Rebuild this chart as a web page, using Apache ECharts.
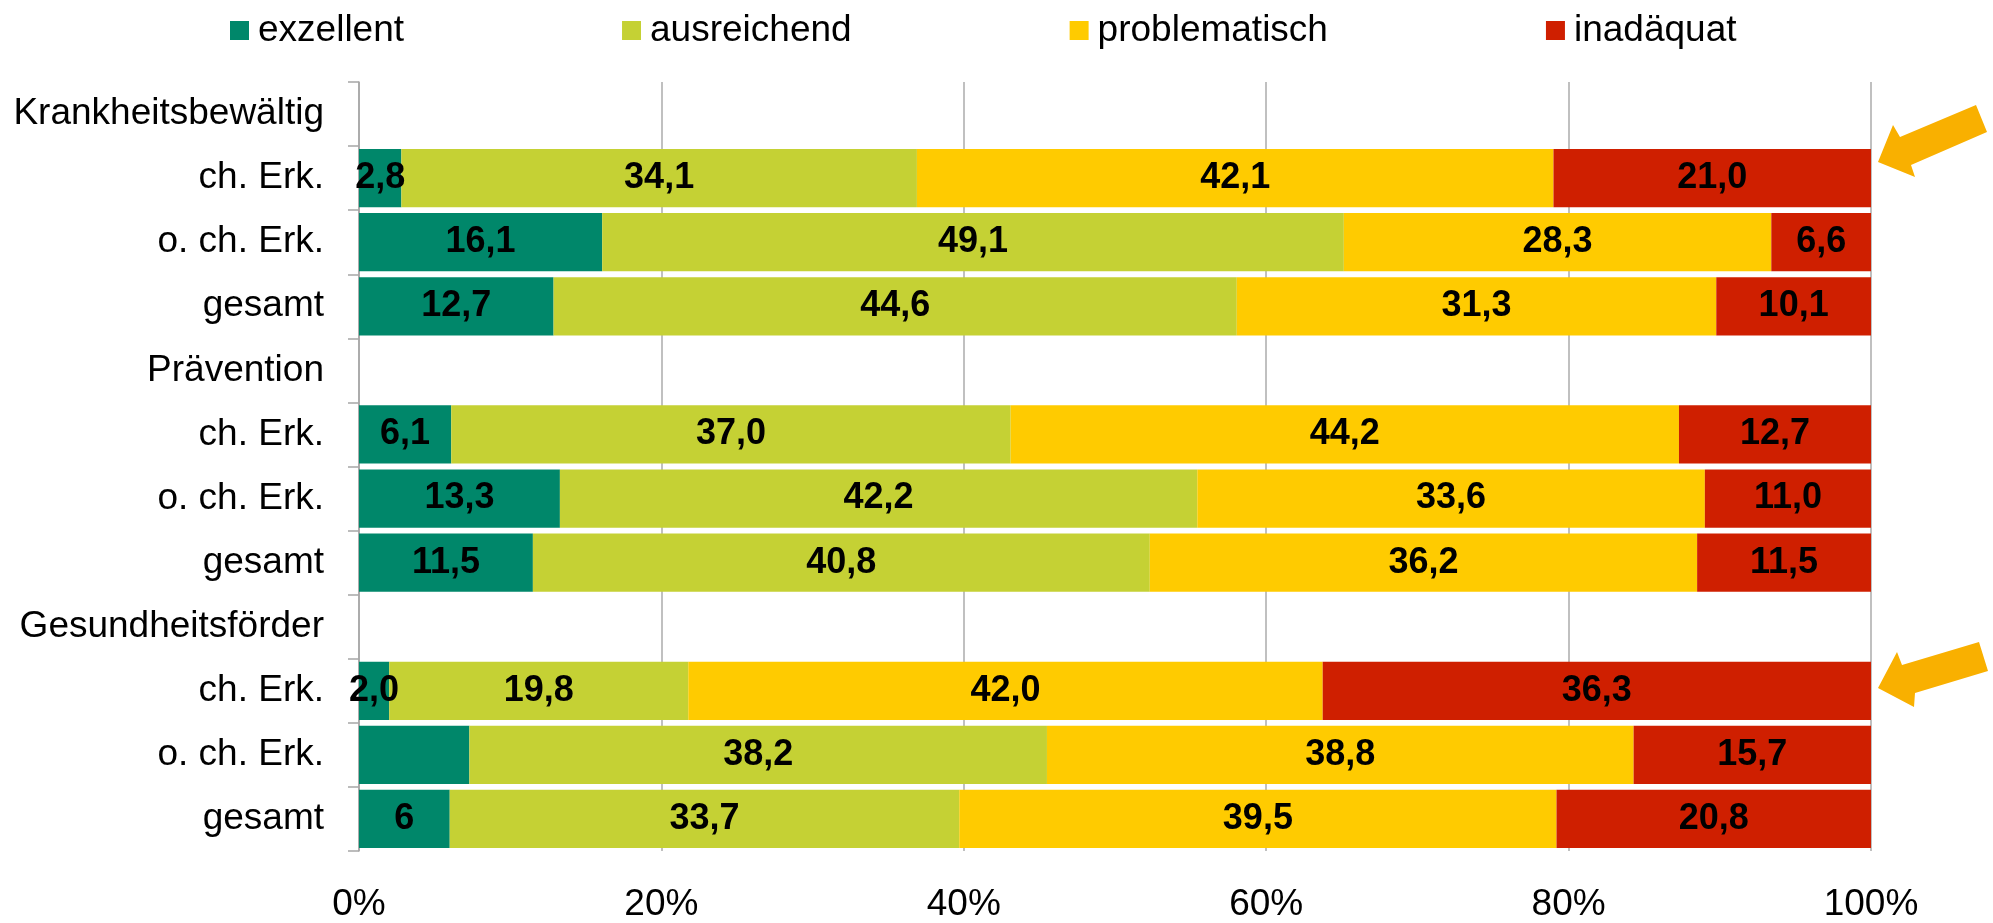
<!DOCTYPE html>
<html>
<head>
<meta charset="utf-8">
<script src="https://cdn.jsdelivr.net/npm/echarts@6/dist/echarts.min.js"></script>
<style>
html,body{margin:0;padding:0;background:#fff;}
#chart{width:1993px;height:923px;}
</style>
</head>
<body>
<div id="chart"></div>
<script>
// Categories (top to bottom)
const categories = ['Krankheitsbewältig','ch. Erk.','o. ch. Erk.','gesamt',
                    'Prävention','ch. Erk.','o. ch. Erk.','gesamt',
                    'Gesundheitsförder','ch. Erk.','o. ch. Erk.','gesamt'];
const seriesNames = ['exzellent','ausreichend','problematisch','inadäquat'];
// Values (null = group header row)
const exzellent     = [null, 2.8, 16.1, 12.7, null, 6.1, 13.3, 11.5, null, 2.0, 7.3, 6];
const ausreichend   = [null, 34.1, 49.1, 44.6, null, 37.0, 42.2, 40.8, null, 19.8, 38.2, 33.7];
const problematisch = [null, 42.1, 28.3, 31.3, null, 44.2, 33.6, 36.2, null, 42.0, 38.8, 39.5];
const inadaequat    = [null, 21.0, 6.6, 10.1, null, 12.7, 11.0, 11.5, null, 36.3, 15.7, 20.8];
// Label texts for the exzellent series (one label hidden, one shown without decimal)
const exzellentLabels = ['', '2,8', '16,1', '12,7', '', '6,1', '13,3', '11,5', '', '2,0', '', '6'];
const xTicks = [0, 20, 40, 60, 80, 100];

const colors = ['#00876A', '#C5D134', '#FFCB00', '#CF1F00'];
const values = [exzellent, ausreichend, problematisch, inadaequat];
const FONT = 'Liberation Sans, Arial, sans-serif';

// 100% stacked: normalise each row
const sums = categories.map((c, i) => values.reduce((s, arr) => s + (arr[i] || 0), 0));

const series = values.map((arr, si) => ({
  name: seriesNames[si],
  type: 'bar',
  stack: 'total',
  barCategoryGap: '9%',
  itemStyle: { color: colors[si] },
  label: {
    show: true,
    position: 'inside',
    color: '#000',
    fontWeight: 'bold',
    fontSize: 36,
    fontFamily: FONT,
    formatter: function (p) {
      if (si === 0) return exzellentLabels[p.dataIndex];
      const v = p.data.raw;
      return v == null ? '' : v.toFixed(1).replace('.', ',');
    }
  },
  data: arr.map((v, i) => v == null ? { value: null, raw: null } : { value: v / sums[i] * 100, raw: v })
}));

const chart = echarts.init(document.getElementById('chart'), null, { renderer: 'canvas' });

function arrow(points) {
  return { type: 'polygon', shape: { points: points }, style: { fill: '#F9B000' }, z: 100 };
}

chart.setOption({
  backgroundColor: '#fff',
  animation: false,
  color: colors,
  legend: {
    data: seriesNames,
    left: 230,
    top: 12,
    padding: 0,
    itemGap: 218,
    itemWidth: 19,
    itemHeight: 19,
    icon: 'rect',
    textStyle: { fontSize: 37, color: '#000', fontFamily: FONT, padding: [0, 0, 0, 4] }
  },
  grid: { left: 359, right: 122, top: 82, bottom: 65, containLabel: false },
  xAxis: {
    type: 'value',
    min: xTicks[0],
    max: xTicks[xTicks.length - 1],
    interval: xTicks[1] - xTicks[0],
    axisLine: { show: false },
    axisTick: { show: false },
    splitLine: { show: true, lineStyle: { color: '#ABABAB', width: 1.5 } },
    axisLabel: {
      formatter: '{value}%',
      fontSize: 37,
      color: '#000',
      fontFamily: FONT,
      margin: 35
    }
  },
  yAxis: {
    type: 'category',
    inverse: true,
    data: categories,
    axisLine: { show: true, lineStyle: { color: '#A6A6A6', width: 1.5 } },
    axisTick: { show: true, length: 11, inside: false, lineStyle: { color: '#A6A6A6', width: 1.5 } },
    axisLabel: { fontSize: 37, color: '#000', fontFamily: FONT, margin: 35 },
    splitLine: { show: false }
  },
  series: series,
  graphic: [
    arrow([[1878,162],[1893,125],[1900,137],[1976,105],[1987,132],[1911,165],[1915,177]]),
    arrow([[1878,688],[1897,652],[1902,665],[1979,642],[1988,671],[1915,693],[1914,707]])
  ]
});
</script>
</body>
</html>
